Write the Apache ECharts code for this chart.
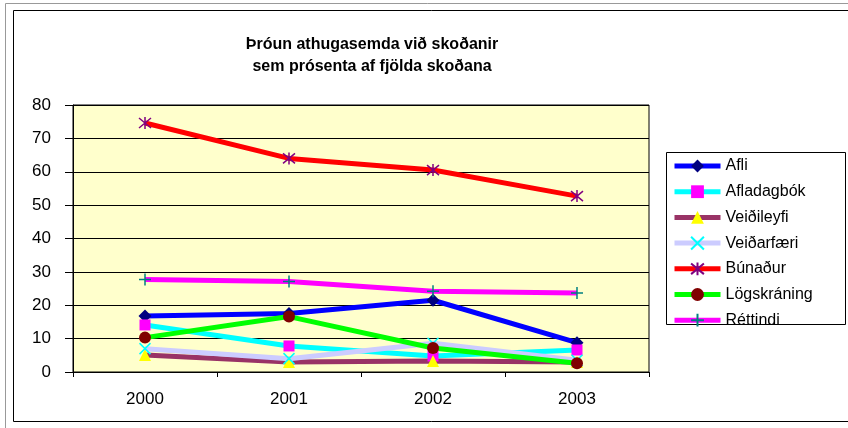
<!DOCTYPE html>
<html>
<head>
<meta charset="utf-8">
<script src="https://cdn.jsdelivr.net/npm/echarts@6/dist/echarts.min.js"></script>
<style>
  html, body { margin: 0; padding: 0; background: #fff; }
  #main { width: 848px; height: 428px; }
</style>
</head>
<body>
<div id="main"></div>
<script>
// ár
const years = ['2000', '2001', '2002', '2003'];

// hlutfall athugasemda (%)
const afli = [16.8, 17.5, 21.5, 8.8];
const afladagbok = [14.1, 7.8, 4.8, 6.6];
const veidileyfi = [5.1, 3.0, 3.3, 3.0];
const veidarfaeri = [7.0, 4.0, 8.6, 3.5];
const bunadur = [74.6, 64.0, 60.5, 52.7];
const logskraning = [10.3, 16.6, 7.2, 2.6];
const rettindi = [27.7, 27.1, 24.2, 23.7];

const yTicks = { min: 0, max: 80, interval: 10 };

const FONT = '"Liberation Sans", Arial, sans-serif';

// tákn sem eru bara strik
const crossX = 'path://M0,0L10,10M10,0L0,10';
const star = 'path://M0,0L10,10M10,0L0,10M5,-1L5,11';
const plus = 'path://M5,0L5,10M0,5L10,5';

const mkLine = (name, data, lineColor, symbol, symColor, size, stroke) => ({
  name: name,
  type: 'line',
  data: data,
  symbol: symbol,
  symbolSize: size,
  lineStyle: { color: lineColor, width: 5 },
  itemStyle: stroke
    ? { color: symColor, borderColor: symColor, borderWidth: 1.5 }
    : { color: symColor, borderWidth: 0 },
  emphasis: { disabled: true },
});

const myChart = echarts.init(document.getElementById('main'));
const option = {
  animation: false,
  textStyle: { fontFamily: FONT },
  title: {
    text: 'Þróun athugasemda við skoðanir\nsem prósenta af fjölda skoðana',
    left: 367,
    top: 29,
    textAlign: 'center',
    textStyle: {
      fontFamily: FONT,
      fontSize: 16,
      fontWeight: 'bold',
      color: '#000',
      lineHeight: 22,
    },
  },
  graphic: [
    {
      type: 'rect',
      shape: { x: 5.5, y: 3.5, width: 900, height: 500 },
      style: { fill: 'none', stroke: '#999', lineWidth: 1 },
      silent: true,
    },
    {
      type: 'rect',
      shape: { x: 13.5, y: 10.5, width: 900, height: 411 },
      style: { fill: 'none', stroke: '#000', lineWidth: 1 },
      silent: true,
    },
    {
      type: 'rect',
      shape: { x: 666.5, y: 152.5, width: 179, height: 172 },
      style: { fill: '#fff', stroke: '#000', lineWidth: 1 },
      silent: true,
      z: 0,
    },
  ],
  grid: {
    left: 73,
    top: 105,
    width: 576,
    height: 267,
    show: true,
    backgroundColor: '#FFFFCC',
    borderColor: '#000',
    borderWidth: 1,
  },
  legend: {
    orient: 'vertical',
    left: 672,
    top: 158,
    itemWidth: 46,
    itemHeight: 16,
    itemGap: 9.7,
    padding: 0,
    z: 5,
    lineStyle: { width: 5 },
    textStyle: { fontFamily: FONT, fontSize: 16, color: '#000' },
  },
  xAxis: {
    type: 'category',
    data: years,
    boundaryGap: true,
    axisLine: { lineStyle: { color: '#000', width: 1 } },
    axisTick: { show: true, interval: 0, length: 5, lineStyle: { color: '#000' } },
    axisLabel: { color: '#000', fontSize: 17, margin: 19, fontFamily: FONT },
  },
  yAxis: {
    type: 'value',
    min: yTicks.min,
    max: yTicks.max,
    interval: yTicks.interval,
    axisLine: { show: true, lineStyle: { color: '#000', width: 1 } },
    axisTick: { show: true, length: 8, lineStyle: { color: '#000' } },
    axisLabel: { color: '#000', fontSize: 17, margin: 22, fontFamily: FONT },
    splitLine: { show: true, lineStyle: { color: '#000', width: 1 } },
  },
  series: [
    mkLine('Afli', afli, '#0000FF', 'diamond', '#000080', 13),
    mkLine('Afladagbók', afladagbok, '#00FFFF', 'rect', '#FF00FF', 11),
    mkLine('Veiðileyfi', veidileyfi, '#993366', 'triangle', '#FFFF00', 12),
    mkLine('Veiðarfæri', veidarfaeri, '#CCCCFF', crossX, '#00FFFF', 11, true),
    mkLine('Búnaður', bunadur, '#FF0000', star, '#800080', 12, true),
    mkLine('Lögskráning', logskraning, '#00FF00', 'circle', '#800000', 12),
    mkLine('Réttindi', rettindi, '#FF00FF', plus, '#008080', 12, true),
  ],
};
myChart.setOption(option);
</script>
</body>
</html>
